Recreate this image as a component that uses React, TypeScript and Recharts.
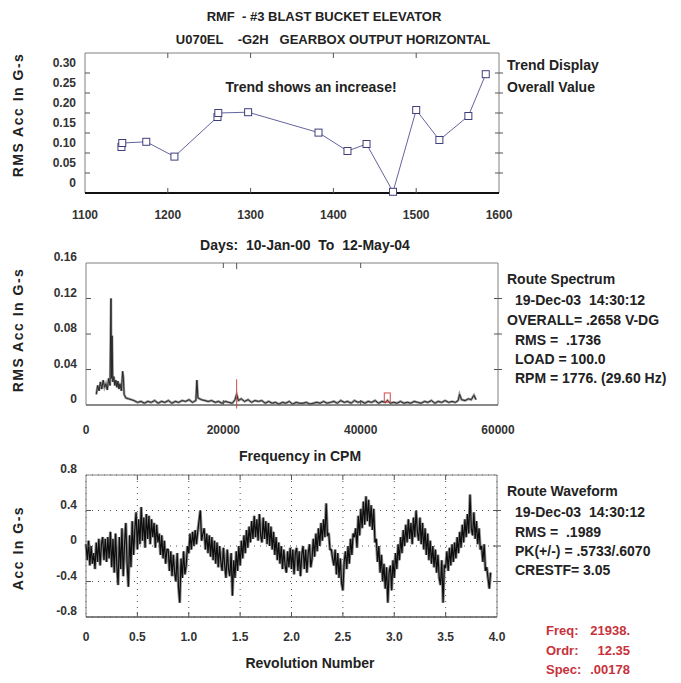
import React from 'react';
import {
  LineChart,
  Line,
  XAxis,
  YAxis,
  ReferenceArea,
  ReferenceLine,
  ReferenceDot,
  CartesianGrid,
} from 'recharts';

const FONT = '"Liberation Sans", Arial, sans-serif';
const W = 681;
const H = 683;

// --- trend display (overall value vs days) ---
const trendDays = [1144, 1145, 1174, 1208, 1260, 1261, 1297, 1382, 1417, 1440, 1472, 1500, 1528, 1563, 1584];
const trendRms = [0.115, 0.125, 0.128, 0.091, 0.19, 0.2, 0.202, 0.151, 0.105, 0.1225, 0.003, 0.2075, 0.1325, 0.1925, 0.297];
const trendXTicks = [1100, 1200, 1300, 1400, 1500, 1600];
const trendYTicks = [0, 0.05, 0.1, 0.15, 0.2, 0.25, 0.3];
const trendYLabels = ['0', '0.05', '0.10', '0.15', '0.20', '0.25', '0.30'];

// --- route spectrum [cpm, rms g] ---
const spectrum: [number, number][] = [
  [1500, 0.012], [1700, 0.022], [1900, 0.016], [2100, 0.026], [2300, 0.018], [2500, 0.028],
  [2700, 0.02], [2900, 0.024], [3100, 0.017], [3300, 0.03], [3500, 0.022], [3640, 0.12],
  [3700, 0.03], [3800, 0.078], [3900, 0.026], [4050, 0.032], [4200, 0.022], [4350, 0.028],
  [4500, 0.02], [4650, 0.027], [4800, 0.018], [4950, 0.024], [5150, 0.016], [5340, 0.038],
  [5450, 0.03], [5550, 0.012], [5800, 0.008], [6200, 0.007], [6600, 0.006], [7000, 0.005],
  [7500, 0.003], [8000, 0.004], [8500, 0.002], [9000, 0.004], [9500, 0.003], [10000, 0.005],
  [10500, 0.002], [11000, 0.004], [11500, 0.003], [12000, 0.005], [12500, 0.002], [13000, 0.004],
  [13500, 0.003], [14000, 0.005], [14500, 0.004], [15000, 0.006], [15500, 0.003], [16000, 0.005],
  [16150, 0.028], [16300, 0.008], [16800, 0.006], [17300, 0.005], [17800, 0.004], [18300, 0.005],
  [18800, 0.003], [19300, 0.004], [19800, 0.002], [20300, 0.004], [20800, 0.003], [21300, 0.002],
  [21700, 0.006], [21938, 0.012], [22200, 0.005], [22600, 0.007], [23100, 0.004], [23600, 0.006],
  [24100, 0.003], [24600, 0.005], [25100, 0.004], [25600, 0.005], [26100, 0.002], [26600, 0.004],
  [27100, 0.002], [27600, 0.003], [28100, 0.001], [28600, 0.003], [29100, 0.002], [29600, 0.004],
  [30100, 0.001], [30600, 0.003], [31100, 0.002], [31600, 0.002], [32100, 0.003], [32600, 0.001],
  [33100, 0.002], [33600, 0.003], [34100, 0.002], [34600, 0.004], [35100, 0.002], [35600, 0.003],
  [36100, 0.004], [36600, 0.002], [37100, 0.005], [37600, 0.003], [38100, 0.004], [38600, 0.002],
  [39100, 0.005], [39600, 0.003], [40100, 0.004], [40600, 0.002], [41100, 0.004], [41600, 0.003],
  [42100, 0.005], [42600, 0.002], [43100, 0.004], [43600, 0.003], [43900, 0.005], [44300, 0.002],
  [44800, 0.003], [45300, 0.002], [45800, 0.004], [46300, 0.002], [46800, 0.003], [47300, 0.002],
  [47800, 0.004], [48300, 0.003], [48800, 0.002], [49300, 0.004], [49800, 0.003], [50300, 0.005],
  [50800, 0.002], [51300, 0.004], [51800, 0.003], [52300, 0.005], [52800, 0.003], [53300, 0.004],
  [53800, 0.003], [54200, 0.005], [54400, 0.012], [54700, 0.006], [55200, 0.005], [55700, 0.007],
  [56100, 0.006], [56500, 0.011], [56800, 0.006],
];
const specXTicks = [0, 20000, 40000, 60000];
const specYTicks = [0, 0.04, 0.08, 0.12, 0.16];
const specYLabels = ['0', '0.04', '0.08', '0.12', '0.16'];
const cursorCpm = 21938;
const harmonicCpm = 43876;

// --- route waveform, 80 samples per revolution ---
const wave = [
  0.02, -0.16, 0.06, -0.22, 0.0, -0.2, -0.08, -0.26, 0.04, -0.18, 0.08, -0.22, 0.02, 0.1, -0.16, 0.08,
  -0.18, 0.1, -0.14, 0.16, -0.24, 0.08, -0.3, 0.14, -0.22, -0.44, 0.1, -0.26, 0.2, -0.34, 0.02, 0.26,
  -0.2, -0.46, 0.12, -0.24, 0.28, -0.1, 0.18, 0.38, -0.04, 0.3, 0.02, 0.44, 0.06, 0.32, -0.02, 0.36,
  0.08, 0.34, 0.02, 0.3, 0.1, 0.26, -0.02, 0.24, 0.04, 0.14, -0.1, 0.12, -0.14, 0.06, -0.2, -0.04,
  -0.04, -0.28, -0.06, -0.34, -0.1, -0.3, -0.4, -0.08, -0.46, -0.64, -0.14, -0.36, -0.06, -0.32, -0.22, 0.0,
  -0.08, 0.14, -0.04, 0.16, 0.0, 0.18, 0.02, 0.16, 0.28, 0.4, 0.06, 0.14, 0.2, -0.04, 0.14, -0.08,
  0.12, -0.12, 0.1, -0.16, 0.06, -0.2, 0.04, -0.24, 0.0, -0.18, -0.28, -0.02, -0.22, -0.36, -0.04, -0.26,
  -0.34, -0.08, -0.56, -0.16, -0.36, -0.06, -0.28, 0.0, -0.22, 0.06, -0.14, 0.12, -0.08, 0.18, -0.02, 0.22,
  0.04, 0.28, 0.08, 0.34, 0.1, 0.3, 0.06, 0.36, 0.12, 0.04, 0.32, 0.08, 0.28, 0.02, 0.26, 0.0,
  0.22, -0.04, 0.16, -0.1, 0.1, -0.16, 0.04, -0.2, 0.0, -0.26, -0.04, -0.22, -0.3, -0.06, -0.24, -0.02,
  -0.26, -0.04, -0.32, -0.08, -0.02, -0.28, -0.06, -0.34, -0.1, 0.0, -0.26, -0.04, -0.3, -0.08, 0.02, -0.24,
  -0.14, 0.08, -0.12, 0.14, -0.06, 0.2, 0.0, 0.26, 0.06, 0.3, 0.1, 0.48, 0.12, 0.14, -0.04, -0.04,
  -0.14, -0.22, -0.04, -0.32, -0.08, -0.36, -0.14, -0.42, -0.5, -0.18, -0.06, -0.26, 0.0, -0.2, 0.08, -0.1,
  0.14, 0.1, 0.2, -0.02, 0.34, 0.12, 0.42, 0.2, 0.5, 0.24, 0.56, 0.28, 0.52, 0.22, 0.46, 0.18,
  0.42, 0.04, 0.08, -0.18, 0.0, -0.3, -0.1, -0.4, -0.2, -0.48, -0.24, -0.64, -0.3, -0.22, -0.5, -0.16,
  -0.36, -0.08, -0.26, 0.02, -0.16, 0.1, -0.08, 0.18, 0.0, 0.24, 0.04, 0.3, 0.08, 0.26, 0.02, 0.32,
  0.1, 0.4, 0.16, 0.06, 0.32, 0.02, 0.26, -0.04, 0.2, -0.1, 0.14, -0.16, 0.06, -0.2, 0.0, -0.24,
  -0.04, -0.3, -0.1, -0.36, -0.44, -0.16, -0.64, -0.22, -0.24, -0.06, -0.28, -0.02, -0.22, 0.02, -0.18, 0.04,
  -0.14, 0.1, -0.08, 0.16, -0.02, 0.24, 0.04, 0.3, 0.1, 0.36, 0.14, 0.58, 0.2, 0.12, 0.38, 0.08,
  0.28, 0.02, 0.2, -0.04, 0.0, -0.18, 0.02, -0.28, -0.24, -0.36, -0.48, -0.3,
];
const waveXTicks = [0, 40, 80, 120, 160, 200, 240, 280, 320];
const waveXLabels = ['0', '0.5', '1.0', '1.5', '2.0', '2.5', '3.0', '3.5', '4.0'];
const waveYTicks = [-0.8, -0.4, 0, 0.4, 0.8];
const waveYLabels = ['-0.8', '-0.4', '0', '0.4', '0.8'];

const tickStyle = { fontFamily: FONT, fontSize: 12, fontWeight: 700, fill: '#333' };

// y tick: label drawn a little above its tick (as in the printout) + short marks on both box edges
const makeYTick = (ticks: number[], labels: string[], left: number, right: number, marked: number[], shift: number) =>
  (props: any) => {
    const { y, payload } = props;
    const v = payload.value;
    const label = labels[ticks.indexOf(v)];
    const mark = marked.includes(v);
    return (
      <g>
        <text x={left - 9} y={y + shift} textAnchor="end" dominantBaseline="central" style={tickStyle}>
          {label}
        </text>
        {mark && <line x1={left} x2={left + 5} y1={y} y2={y} stroke="#555" />}
        {mark && <line x1={right - 4} x2={right + 4} y1={y} y2={y} stroke="#555" />}
      </g>
    );
  };

const makeXTick = (ticks: number[], labels: string[], top: number, bottom: number, marked: number[], dy: number) =>
  (props: any) => {
    const { x, payload } = props;
    const v = payload.value;
    const label = labels[ticks.indexOf(v)];
    const mark = marked.includes(v);
    return (
      <g>
        <text x={x} y={bottom + dy} textAnchor="middle" dominantBaseline="central" style={tickStyle}>
          {label}
        </text>
        {mark && <line x1={x} x2={x} y1={top} y2={top + 5} stroke="#555" />}
        {mark && <line x1={x} x2={x} y1={bottom} y2={bottom - 5} stroke="#555" />}
      </g>
    );
  };

const SquareDot = (props: any) => {
  const { cx, cy } = props;
  if (cx == null || cy == null) return <g />;
  return <rect x={cx - 3.5} y={cy - 3.5} width={7} height={7} fill="#fff" stroke="#3f3f7c" strokeWidth={1} />;
};

const Txt = ({ x, y, children, anchor = 'start', color = '#222', size = 14, rotate = false, spacing = 0 }: any) => {
  const tx = anchor === 'middle' ? '-50%' : anchor === 'end' ? '-100%' : '0';
  return (
    <div
      style={{
        position: 'absolute',
        left: x,
        top: y,
        transform: `translate(${tx}, -50%)${rotate ? ' rotate(-90deg)' : ''}`,
        whiteSpace: 'pre',
        fontFamily: FONT,
        fontWeight: 700,
        fontSize: size,
        letterSpacing: spacing,
        color,
        lineHeight: 1,
      }}
    >
      {children}
    </div>
  );
};

const layer: React.CSSProperties = { position: 'absolute', left: 0, top: 0 };

export default function App() {
  const trendData = trendDays.map((d, i) => ({ day: d, rms: trendRms[i] }));
  const specData = spectrum.map(([cpm, amp]) => ({ cpm, amp }));
  const waveData = wave.map((v, i) => ({ i, v }));

  return (
    <div style={{ position: 'absolute', left: 0, top: 0, width: W, height: H, background: '#fff' }}>
      {/* trend */}
      <div style={layer}>
        <LineChart width={W} height={H} data={trendData} margin={{ top: 53, left: 35, right: 182, bottom: 460 }}>
          <ReferenceArea x1={1100} x2={1600} y1={0} y2={0.35} fill="none" stroke="#808080" ifOverflow="visible" />
          <XAxis
            dataKey="day"
            type="number"
            domain={[1100, 1600]}
            ticks={trendXTicks}
            interval={0}
            height={30}
            tickSize={0}
            tickMargin={0}
            axisLine={{ stroke: '#111', strokeWidth: 2 }}
            tick={makeXTick(trendXTicks, trendXTicks.map(String), 53, 193, [1200, 1300, 1400, 1500], 22)}
          />
          <YAxis
            type="number"
            domain={[0, 0.35]}
            ticks={trendYTicks}
            interval={0}
            width={50}
            tickSize={0}
            tickMargin={0}
            axisLine={false}
            tick={makeYTick(trendYTicks, trendYLabels, 85, 499, [0.05, 0.1, 0.15, 0.2, 0.25, 0.3], -10)}
          />
          <Line
            dataKey="rms"
            type="linear"
            stroke="#6464a0"
            strokeWidth={1}
            isAnimationActive={false}
            dot={(p: any) => <SquareDot key={p.index} {...p} />}
          />
        </LineChart>
      </div>

      {/* spectrum */}
      <div style={layer}>
        <LineChart width={W} height={H} data={specData} margin={{ top: 263, left: 36, right: 183, bottom: 248 }}>
          <ReferenceArea x1={0} x2={60000} y1={0} y2={0.16} fill="none" stroke="#808080" ifOverflow="visible" />
          <XAxis
            dataKey="cpm"
            type="number"
            domain={[0, 60000]}
            ticks={specXTicks}
            interval={0}
            height={30}
            tickSize={0}
            tickMargin={0}
            axisLine={{ stroke: '#555' }}
            tick={makeXTick(specXTicks, specXTicks.map(String), 263, 405, [20000, 40000], 25)}
          />
          <YAxis
            type="number"
            domain={[0, 0.16]}
            ticks={specYTicks}
            interval={0}
            width={50}
            tickSize={0}
            tickMargin={0}
            axisLine={false}
            tick={makeYTick(specYTicks, specYLabels, 86, 498, [0.04, 0.08, 0.12], -6)}
          />
          <ReferenceLine
            segment={[{ x: cursorCpm, y: 0.16 }, { x: cursorCpm, y: 0.153 }]}
            stroke="#555"
            ifOverflow="visible"
          />
          <Line dataKey="amp" type="linear" stroke="#9a9a9a" strokeWidth={2.5} dot={false} isAnimationActive={false} />
          <Line dataKey="amp" type="linear" stroke="#262626" strokeWidth={1} dot={false} isAnimationActive={false} />
          <ReferenceLine
            segment={[{ x: cursorCpm, y: -0.004 }, { x: cursorCpm, y: 0.029 }]}
            stroke="#d84a4a"
            strokeWidth={1}
            ifOverflow="visible"
          />
          <ReferenceDot
            x={harmonicCpm}
            y={0.0085}
            ifOverflow="visible"
            shape={(p: any) => (
              <rect x={p.cx - 3} y={p.cy - 4.5} width={6} height={9} fill="none" stroke="#d84a4a" strokeWidth={1} />
            )}
          />
        </LineChart>
      </div>

      {/* waveform */}
      <div style={layer}>
        <LineChart width={W} height={H} data={waveData} margin={{ top: 475, left: 36, right: 184, bottom: 36 }}>
          <CartesianGrid stroke="#555" strokeDasharray="1 5" />
          <ReferenceArea x1={0} x2={320} y1={-0.8} y2={0.8} fill="none" stroke="#808080" ifOverflow="visible" />
          <XAxis
            dataKey="i"
            type="number"
            domain={[0, 320]}
            ticks={waveXTicks}
            interval={0}
            height={30}
            tickSize={0}
            tickMargin={0}
            axisLine={{ stroke: '#444' }}
            tick={makeXTick(waveXTicks, waveXLabels, 475, 617, [40, 80, 120, 160, 200, 240, 280], 20)}
          />
          <YAxis
            type="number"
            domain={[-0.8, 0.8]}
            ticks={waveYTicks}
            interval={0}
            width={50}
            tickSize={0}
            tickMargin={0}
            axisLine={false}
            tick={makeYTick(waveYTicks, waveYLabels, 86, 497, [-0.4, 0, 0.4], -6)}
          />
          <Line dataKey="v" type="linear" stroke="#8c8c8c" strokeWidth={3} strokeLinejoin="bevel" dot={false} isAnimationActive={false} />
          <Line dataKey="v" type="linear" stroke="#0d0d0d" strokeWidth={1.2} dot={false} isAnimationActive={false} />
        </LineChart>
      </div>

      {/* titles */}
      <Txt x={324} y={16} anchor="middle" size={13}>{'RMF  - #3 BLAST BUCKET ELEVATOR'}</Txt>
      <Txt x={333} y={39} anchor="middle" size={13}>{'U070EL    -G2H   GEARBOX OUTPUT HORIZONTAL'}</Txt>
      <Txt x={311} y={87} anchor="middle">Trend shows an increase!</Txt>
      <Txt x={305} y={245} anchor="middle">{'Days:  10-Jan-00  To  12-May-04'}</Txt>
      <Txt x={300} y={456} anchor="middle">Frequency in CPM</Txt>
      <Txt x={310} y={663} anchor="middle">Revolution Number</Txt>

      <Txt x={18} y={115} anchor="middle" rotate size={14} spacing={1.5}>RMS Acc In G-s</Txt>
      <Txt x={18} y={330} anchor="middle" rotate size={14} spacing={1.5}>RMS Acc In G-s</Txt>
      <Txt x={18} y={548} anchor="middle" rotate size={14} spacing={1.5}>Acc In G-s</Txt>

      {/* side notes */}
      <Txt x={507} y={65}>Trend Display</Txt>
      <Txt x={507} y={87}>Overall Value</Txt>

      <Txt x={507} y={279}>Route Spectrum</Txt>
      <Txt x={515} y={300}>{'19-Dec-03  14:30:12'}</Txt>
      <Txt x={507} y={320}>{'OVERALL= .2658 V-DG'}</Txt>
      <Txt x={515} y={340}>{'RMS =  .1736'}</Txt>
      <Txt x={515} y={359}>LOAD = 100.0</Txt>
      <Txt x={515} y={378}>RPM = 1776. (29.60 Hz)</Txt>

      <Txt x={507} y={491}>Route Waveform</Txt>
      <Txt x={515} y={512}>{'19-Dec-03  14:30:12'}</Txt>
      <Txt x={515} y={532}>{'RMS =  .1989'}</Txt>
      <Txt x={515} y={551}>PK(+/-) = .5733/.6070</Txt>
      <Txt x={515} y={570}>CRESTF= 3.05</Txt>

      <Txt x={546} y={630} color="#c8323c" size={13}>Freq:</Txt>
      <Txt x={630} y={630} anchor="end" color="#c8323c" size={13}>21938.</Txt>
      <Txt x={546} y={650} color="#c8323c" size={13}>Ordr:</Txt>
      <Txt x={630} y={650} anchor="end" color="#c8323c" size={13}>12.35</Txt>
      <Txt x={546} y={669} color="#c8323c" size={13}>Spec:</Txt>
      <Txt x={630} y={669} anchor="end" color="#c8323c" size={13}>.00178</Txt>
    </div>
  );
}
